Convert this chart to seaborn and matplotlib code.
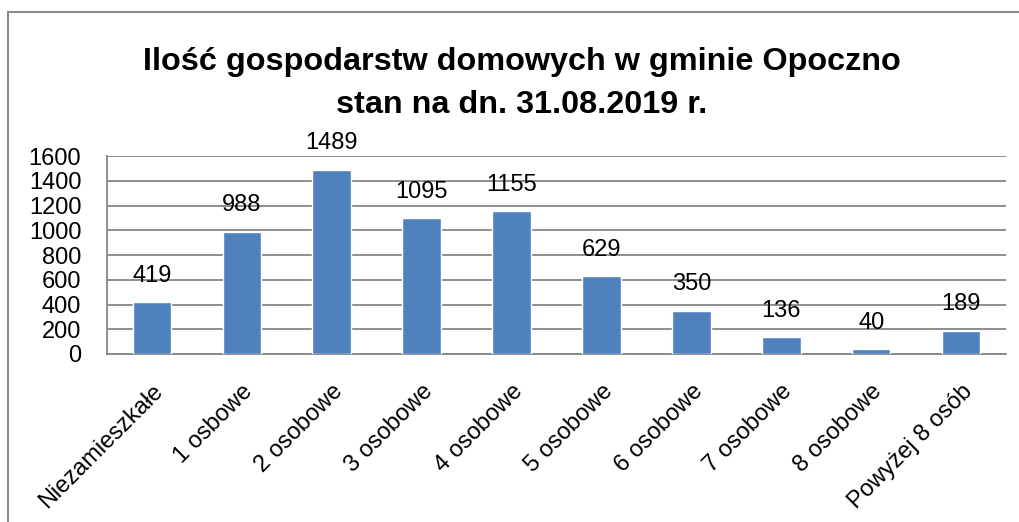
import pandas as pd
import numpy as np
import matplotlib
matplotlib.use("Agg")
import matplotlib.pyplot as plt
import seaborn as sns
from matplotlib.patches import Rectangle

# Data
categories = ["Niezamieszkałe", "1 osbowe", "2 osobowe", "3 osobowe", "4 osobowe",
              "5 osobowe", "6 osobowe", "7 osobowe", "8 osobowe", "Powyżej 8 osób"]
households = [419, 988, 1489, 1095, 1155, 629, 350, 136, 40, 189]
title_lines = ["Ilość gospodarstw domowych w gminie Opoczno", "stan na dn. 31.08.2019 r."]
yticks = [0, 200, 400, 600, 800, 1000, 1200, 1400, 1600]

sns.set_style("white")
plt.rcParams['font.family'] = ['Liberation Sans', 'DejaVu Sans']
plt.rcParams['text.color'] = "black"
plt.rcParams['xtick.color'] = "black"
plt.rcParams['ytick.color'] = "black"

df = pd.DataFrame({"kategoria": categories, "liczba": households})

fig = plt.figure(figsize=(10.2, 5.22), dpi=100)
ax = fig.add_axes([107/1020, 168/522, 899/1020, 198/522])

grid_col = "#868686"
sns.barplot(data=df, x="kategoria", y="liczba", color="#4F81BD", saturation=1,
            width=0.43, ax=ax, zorder=3)
ax.bar_label(ax.containers[0], fontsize=17, padding=11, color="black")

ax.set_ylim(0, 1600)
ax.set_xlim(-0.5, len(categories) - 0.5)
ax.set_yticks(yticks)
ax.set_yticklabels([str(v) for v in yticks], fontsize=17)
ax.grid(axis="y", color=grid_col, linewidth=1.3, zorder=0)
ax.set_axisbelow(True)
ax.set_xlabel("")
ax.set_ylabel("")

# ticks between categories, as in the spreadsheet original
ax.set_xticks(np.arange(-0.5, len(categories), 1.0), minor=True)
ax.tick_params(axis="x", which="minor", length=6.5, width=1.3, color=grid_col, direction="out")
ax.tick_params(axis="x", which="major", length=0, pad=19)
ax.tick_params(axis="y", length=6.5, width=1.3, color=grid_col, direction="out", pad=12)
ax.set_xticklabels(categories, rotation=45, ha="right", rotation_mode="anchor", fontsize=17)

for side in ["top", "right"]:
    ax.spines[side].set_visible(False)
for side in ["left", "bottom"]:
    ax.spines[side].set_color(grid_col)
    ax.spines[side].set_linewidth(1.3)

fig.text(522/1020, 1 - 62/522, title_lines[0], ha="center", va="center",
         fontsize=23.3, fontweight="bold")
fig.text(522/1020, 1 - 105/522, title_lines[1], ha="center", va="center",
         fontsize=23.3, fontweight="bold")

# chart frame
fig.patches.append(Rectangle((8/1020, -0.05), 1.2, 1 - 12/522 + 0.05,
                             transform=fig.transFigure, fill=False,
                             edgecolor="#8c8c8c", linewidth=1.5))

fig.savefig("out.png", dpi=100)
